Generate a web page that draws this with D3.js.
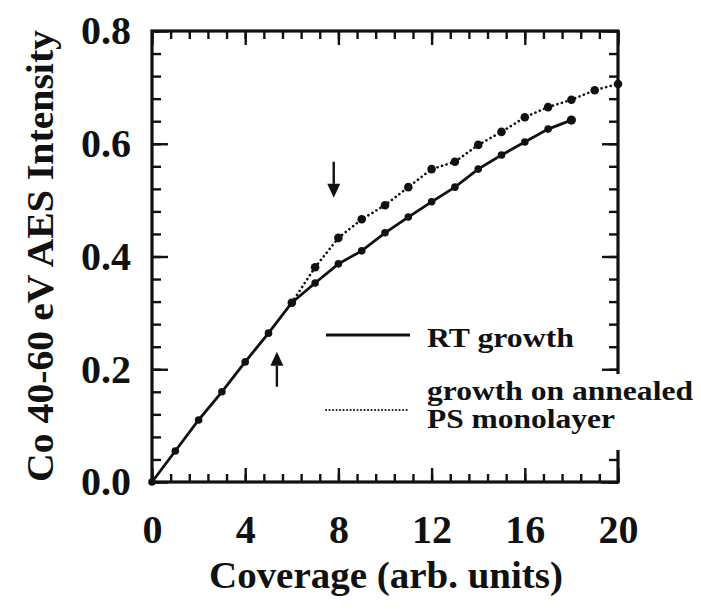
<!DOCTYPE html>
<html>
<head>
<meta charset="utf-8">
<script src="https://cdn.jsdelivr.net/npm/d3@7"></script>
<style>
  body { margin: 0; background: #fff; }
</style>
</head>
<body>
<div id="chart"></div>
<script>
// RT growth (solid line)
const rtCoverage = [0, 1, 2, 3, 4, 5, 6, 7, 8, 9, 10, 11, 12, 13, 14, 15, 16, 17, 18];
const rtIntensity = [0.000, 0.055, 0.110, 0.160, 0.213, 0.264, 0.318, 0.353, 0.387, 0.410,
                     0.442, 0.470, 0.497, 0.523, 0.555, 0.580, 0.603, 0.626, 0.642];

// growth on annealed PS monolayer (dotted line)
const annCoverage = [6, 7, 8, 9, 10, 11, 12, 13, 14, 15, 16, 17, 18, 19, 20];
const annIntensity = [0.318, 0.381, 0.433, 0.466, 0.491, 0.523, 0.555, 0.568, 0.598,
                      0.621, 0.647, 0.665, 0.678, 0.695, 0.706];

const xTicks = [0, 4, 8, 12, 16, 20];
const yTicks = [0.0, 0.2, 0.4, 0.6, 0.8];

const width = 701;
const height = 613;
const ink = '#111';
const serif = '"Liberation Serif", "DejaVu Serif", "Times New Roman", serif';

const svg = d3.select('#chart')
    .append('svg')
    .attr('width', width)
    .attr('height', height);

const x = d3.scaleLinear().domain([0, 20]).range([152, 618]);
const y = d3.scaleLinear().domain([0, 0.8]).range([482, 31]);

const xMinor = d3.range(0, 20.001, 0.8);
const yMinor = d3.range(0, 0.8001, 0.04);

function tidy(g) {
    g.select('.domain').remove();
    g.selectAll('line').attr('stroke', ink).attr('stroke-width', 2.4);
}

// bottom
svg.append('g')
    .attr('transform', `translate(0,${y(0)})`)
    .call(d3.axisBottom(x).tickValues(xMinor).tickSize(-8).tickFormat(''))
    .call(tidy);
const gx = svg.append('g')
    .attr('transform', `translate(0,${y(0)})`)
    .call(d3.axisBottom(x).tickValues(xTicks).tickSize(-14).tickPadding(33).tickFormat(d3.format('d')))
    .call(tidy);
gx.attr('font-size', 40);

// top
svg.append('g')
    .attr('transform', `translate(0,${y(0.8)})`)
    .call(d3.axisTop(x).tickValues(xMinor).tickSize(-8).tickFormat(''))
    .call(tidy);
svg.append('g')
    .attr('transform', `translate(0,${y(0.8)})`)
    .call(d3.axisTop(x).tickValues(xTicks).tickSize(-14).tickFormat(''))
    .call(tidy);

// left
svg.append('g')
    .attr('transform', `translate(${x(0)},0)`)
    .call(d3.axisLeft(y).tickValues(yMinor).tickSize(-9).tickFormat(''))
    .call(tidy);
const gy = svg.append('g')
    .attr('transform', `translate(${x(0)},0)`)
    .call(d3.axisLeft(y).tickValues(yTicks).tickSize(-16).tickPadding(21).tickFormat(d3.format('.1f')))
    .call(tidy);
gy.attr('font-size', 40);

// right
svg.append('g')
    .attr('transform', `translate(${x(20)},0)`)
    .call(d3.axisRight(y).tickValues(yMinor).tickSize(-9).tickFormat(''))
    .call(tidy);
svg.append('g')
    .attr('transform', `translate(${x(20)},0)`)
    .call(d3.axisRight(y).tickValues(yTicks).tickSize(-16).tickFormat(''))
    .call(tidy);

// frame
svg.append('rect')
    .attr('x', x(0))
    .attr('y', y(0.8))
    .attr('width', x(20) - x(0))
    .attr('height', y(0) - y(0.8))
    .attr('fill', 'none')
    .attr('stroke', ink)
    .attr('stroke-width', 3.2);

// data
const rtData = rtCoverage.map((c, i) => ({ c: c, v: rtIntensity[i] }));
const annData = annCoverage.map((c, i) => ({ c: c, v: annIntensity[i] }));

const line = d3.line().x(d => x(d.c)).y(d => y(d.v));

svg.append('path')
    .datum(annData)
    .attr('d', line)
    .attr('fill', 'none')
    .attr('stroke', ink)
    .attr('stroke-width', 2.6)
    .attr('stroke-linecap', 'round')
    .attr('stroke-dasharray', '0.1,4.6');

svg.append('path')
    .datum(rtData)
    .attr('d', line)
    .attr('fill', 'none')
    .attr('stroke', ink)
    .attr('stroke-width', 2.8);

svg.selectAll('.ann-dot')
    .data(annData)
    .enter()
    .append('circle')
    .attr('class', 'ann-dot')
    .attr('cx', d => x(d.c))
    .attr('cy', d => y(d.v))
    .attr('r', 4.3)
    .attr('fill', ink);

svg.selectAll('.rt-dot')
    .data(rtData)
    .enter()
    .append('circle')
    .attr('class', 'rt-dot')
    .attr('cx', d => x(d.c))
    .attr('cy', d => y(d.v))
    .attr('r', (d, i) => i === rtData.length - 1 ? 4.6 : 3.8)
    .attr('fill', ink);

// arrows
function arrow(cx, fromV, toV) {
    const x0 = x(cx), y0 = y(fromV), y1 = y(toV);
    const dir = y1 > y0 ? 1 : -1;
    const head = 14;
    svg.append('line')
        .attr('x1', x0).attr('y1', y0)
        .attr('x2', x0).attr('y2', y1 - dir * head)
        .attr('stroke', ink)
        .attr('stroke-width', 2.4);
    svg.append('path')
        .attr('d', `M${x0},${y1} L${x0 - 6.5},${y1 - dir * head} L${x0 + 6.5},${y1 - dir * head} Z`)
        .attr('fill', ink);
}
arrow(7.8, 0.568, 0.504);
arrow(5.36, 0.169, 0.231);

// legend
svg.append('rect')
    .attr('x', 420)
    .attr('y', 374)
    .attr('width', 281)
    .attr('height', 76)
    .attr('fill', '#fff');

svg.append('line')
    .attr('x1', 326).attr('x2', 410)
    .attr('y1', 335).attr('y2', 335)
    .attr('stroke', ink)
    .attr('stroke-width', 2.8);

svg.append('line')
    .attr('x1', 326).attr('x2', 410)
    .attr('y1', 410).attr('y2', 410)
    .attr('stroke', ink)
    .attr('stroke-width', 2)
    .attr('stroke-linecap', 'round')
    .attr('stroke-dasharray', '0.1,3.4');

svg.append('text')
    .attr('x', 427).attr('y', 347)
    .attr('font-size', 28)
    .attr('textLength', 147)
    .attr('lengthAdjust', 'spacingAndGlyphs')
    .text('RT growth');

svg.append('text')
    .attr('x', 427).attr('y', 400)
    .attr('font-size', 27)
    .attr('textLength', 266)
    .attr('lengthAdjust', 'spacingAndGlyphs')
    .text('growth on annealed');

svg.append('text')
    .attr('x', 427).attr('y', 428)
    .attr('font-size', 27)
    .attr('textLength', 188)
    .attr('lengthAdjust', 'spacingAndGlyphs')
    .text('PS monolayer');

// axis titles
svg.append('text')
    .attr('x', 386).attr('y', 588)
    .attr('text-anchor', 'middle')
    .attr('font-size', 37)
    .attr('textLength', 354)
    .attr('lengthAdjust', 'spacingAndGlyphs')
    .text('Coverage (arb. units)');

svg.append('text')
    .attr('transform', 'translate(53,256) rotate(-90)')
    .attr('text-anchor', 'middle')
    .attr('font-size', 37)
    .attr('textLength', 452)
    .attr('lengthAdjust', 'spacingAndGlyphs')
    .text('Co 40-60 eV AES Intensity');

// one serif face for every label
svg.selectAll('text')
    .style('font-family', serif)
    .style('font-weight', 'bold')
    .attr('fill', ink);
</script>
</body>
</html>
